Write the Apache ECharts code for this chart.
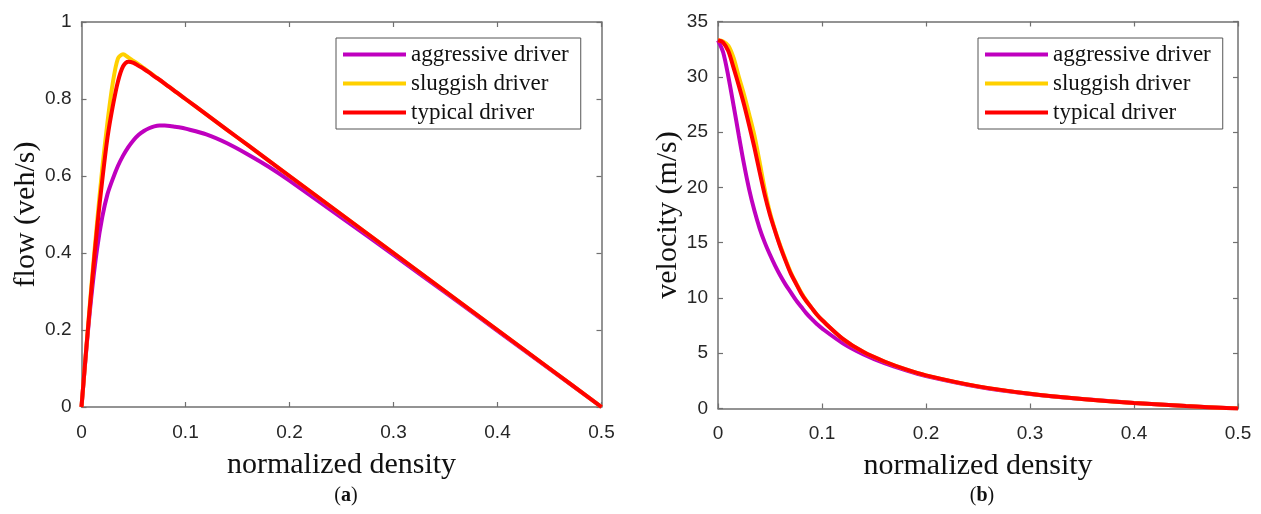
<!DOCTYPE html>
<html>
<head>
<meta charset="utf-8">
<script src="https://cdn.jsdelivr.net/npm/echarts@6/dist/echarts.min.js"></script>
<style>
  html, body { margin: 0; padding: 0; background: #ffffff; }
  #chart { width: 1261px; height: 514px; }
</style>
</head>
<body>
<div id="chart"></div>
<script>
// Normalized density samples shared by both panels
const density = [0, 0.005, 0.01, 0.015, 0.02, 0.025, 0.03, 0.035, 0.04, 0.045, 0.05,
                 0.055, 0.06, 0.065, 0.07, 0.075, 0.08, 0.085, 0.09, 0.095, 0.1,
                 0.12, 0.14, 0.16, 0.18, 0.2, 0.25, 0.3, 0.35, 0.4, 0.45, 0.5];

// Panel (a): flow (veh/s)
const flowAggressive = [0, 0.161, 0.30, 0.411, 0.494, 0.553, 0.592, 0.626, 0.653, 0.675, 0.693,
                        0.707, 0.717, 0.724, 0.729, 0.731, 0.731, 0.730, 0.728, 0.726, 0.723,
                        0.708, 0.685, 0.656, 0.624, 0.588, 0.492, 0.395, 0.297, 0.198, 0.099, 0];
const flowSluggish   = [0, 0.166, 0.33, 0.48, 0.62, 0.74, 0.84, 0.905, 0.916, 0.908, 0.899,
                        0.89, 0.88, 0.87, 0.86, 0.85, 0.84, 0.83, 0.82, 0.81, 0.80,
                        0.76, 0.72, 0.68, 0.64, 0.60, 0.50, 0.40, 0.30, 0.20, 0.10, 0];
const flowTypical    = [0, 0.165, 0.32, 0.465, 0.59, 0.70, 0.78, 0.845, 0.885, 0.897, 0.894,
                        0.886, 0.878, 0.869, 0.859, 0.85, 0.84, 0.83, 0.82, 0.81, 0.80,
                        0.76, 0.72, 0.68, 0.64, 0.60, 0.50, 0.40, 0.30, 0.20, 0.10, 0];

// Panel (b): velocity (m/s)
const velAggressive = [33.3, 32.2, 30.0, 27.4, 24.7, 22.1, 19.8, 17.9, 16.3, 15.0, 13.9,
                       12.9, 12.0, 11.2, 10.5, 9.8, 9.2, 8.6, 8.1, 7.65, 7.24,
                       5.9, 4.89, 4.1, 3.47, 2.94, 1.97, 1.32, 0.85, 0.5, 0.22, 0];
const velSluggish   = [33.3, 33.2, 32.8, 31.7, 30.0, 28.4, 26.6, 24.7, 22.3, 19.8, 17.7,
                       16.1, 14.7, 13.45, 12.3, 11.35, 10.5, 9.75, 9.1, 8.5, 8.0,
                       6.3, 5.1, 4.25, 3.56, 3.0, 2.0, 1.33, 0.86, 0.5, 0.22, 0];
const velTypical    = [33.3, 33.1, 32.3, 30.8, 29.2, 27.5, 25.6, 23.6, 21.4, 19.3, 17.5,
                       16.0, 14.6, 13.35, 12.2, 11.3, 10.4, 9.7, 9.1, 8.5, 8.0,
                       6.3, 5.1, 4.25, 3.56, 3.0, 2.0, 1.33, 0.86, 0.5, 0.22, 0];

const driverNames = ['aggressive driver', 'sluggish driver', 'typical driver'];
const driverColors = ['#BF00BF', '#FFD000', '#FF0000'];

const pairs = (ys) => density.map((x, i) => [x, ys[i]]);

const axisGrey = '#707070';
const labelColor = '#262626';
const serif = '"Liberation Serif", "Times New Roman", serif';
const sans = '"Liberation Sans", Arial, sans-serif';

function fmt(v) { return String(+v.toFixed(2)); }

function boxAxis(gridIndex, main, opts) {
  const base = {
    gridIndex: gridIndex,
    type: 'value',
    axisLine: { show: true, onZero: false, lineStyle: { color: axisGrey, width: 1.5 } },
    axisTick: { show: true, inside: true, length: 5, lineStyle: { color: axisGrey, width: 1.2 } },
    splitLine: { show: false },
    axisLabel: { show: main, color: labelColor, fontFamily: sans, fontSize: 19, margin: 10, formatter: fmt }
  };
  return Object.assign(base, opts);
}

const nameStyle = { fontFamily: serif, fontSize: 30, color: '#111' };
const bottomLabels = { show: true, color: labelColor, fontFamily: sans, fontSize: 19, margin: 16, formatter: fmt };

function legendAt(left) {
  return {
    left: left, top: 38, orient: 'vertical',
    data: driverNames.map(n => ({ name: n, icon: 'rect' })),
    itemWidth: 63, itemHeight: 4, itemGap: 6,
    padding: [5, 12, 5, 7],
    borderColor: '#555', borderWidth: 1, backgroundColor: '#fff', borderRadius: 0,
    textStyle: { fontFamily: serif, fontSize: 23, color: '#111' },
    selectedMode: false
  };
}

function caption(letter, cx) {
  return {
    text: '({b|' + letter + '})', left: cx, top: 481, textAlign: 'center',
    textStyle: { fontFamily: serif, fontSize: 20, fontWeight: 'normal', color: '#111',
      rich: { b: { fontFamily: serif, fontSize: 20, fontWeight: 'bold', color: '#111' } } }
  };
}

const option = {
  backgroundColor: '#ffffff',
  animation: false,
  grid: [
    { left: 81.5, top: 22, width: 520, height: 385 },
    { left: 718, top: 21.5, width: 520, height: 387 }
  ],
  title: [caption('a', 341), caption('b', 977)],
  legend: [legendAt(336), legendAt(978)],
  xAxis: [
    boxAxis(0, true, { min: 0, max: 0.5, interval: 0.1, position: 'bottom', axisLabel: bottomLabels,
      name: 'normalized density', nameLocation: 'middle', nameGap: 43, nameTextStyle: nameStyle }),
    boxAxis(0, false, { min: 0, max: 0.5, interval: 0.1, position: 'top' }),
    boxAxis(1, true, { min: 0, max: 0.5, interval: 0.1, position: 'bottom', axisLabel: bottomLabels,
      name: 'normalized density', nameLocation: 'middle', nameGap: 43, nameTextStyle: nameStyle }),
    boxAxis(1, false, { min: 0, max: 0.5, interval: 0.1, position: 'top' })
  ],
  yAxis: [
    boxAxis(0, true, { min: 0, max: 1, interval: 0.2, position: 'left',
      name: 'flow (veh/s)', nameLocation: 'middle', nameGap: 36, nameTextStyle: nameStyle }),
    boxAxis(0, false, { min: 0, max: 1, interval: 0.2, position: 'right' }),
    boxAxis(1, true, { min: 0, max: 35, interval: 5, position: 'left',
      name: 'velocity (m/s)', nameLocation: 'middle', nameGap: 35, nameTextStyle: nameStyle }),
    boxAxis(1, false, { min: 0, max: 35, interval: 5, position: 'right' })
  ],
  series: []
};

const flowSets = [flowAggressive, flowSluggish, flowTypical];
const velSets = [velAggressive, velSluggish, velTypical];

driverNames.forEach((name, i) => {
  option.series.push({
    name: name, type: 'line', xAxisIndex: 0, yAxisIndex: 0,
    data: pairs(flowSets[i]), showSymbol: false, smooth: 0.3,
    lineStyle: { color: driverColors[i], width: 4 }, itemStyle: { color: driverColors[i] },
    z: 2 + i
  });
});
driverNames.forEach((name, i) => {
  option.series.push({
    name: name, type: 'line', xAxisIndex: 2, yAxisIndex: 2,
    data: pairs(velSets[i]), showSymbol: false, smooth: 0.3,
    lineStyle: { color: driverColors[i], width: 4 }, itemStyle: { color: driverColors[i] },
    z: 2 + i
  });
});

const chart = echarts.init(document.getElementById('chart'), null, { renderer: 'canvas' });
chart.setOption(option);
</script>
</body>
</html>
